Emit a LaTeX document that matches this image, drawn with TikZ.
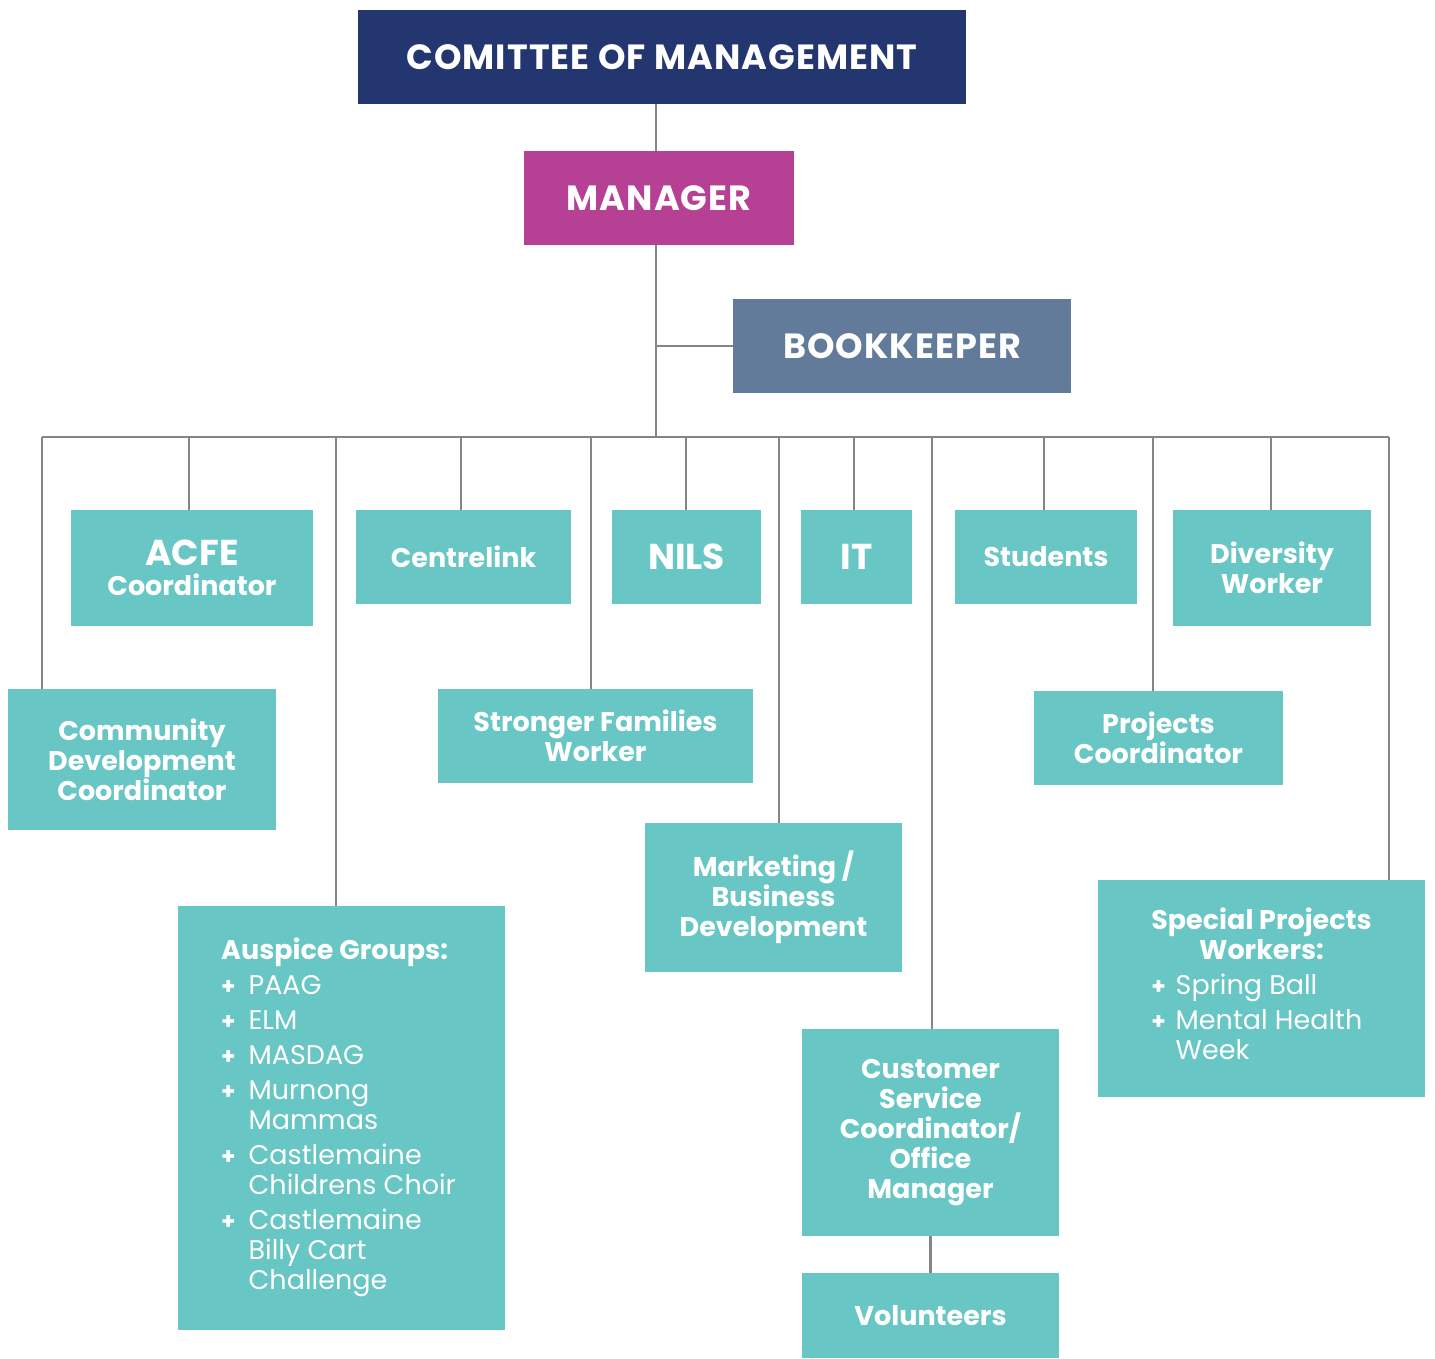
\documentclass[tikz,border=0pt]{standalone}
\usepackage{fontspec}
\setmainfont{Poppins}
\usetikzlibrary{positioning}
\definecolor{navy}    {HTML}{243670}
\definecolor{plum}    {HTML}{B64093}
\definecolor{slate}   {HTML}{627B9A}
\definecolor{tealbox} {HTML}{68C6C4}
\definecolor{wire}    {HTML}{858585}
\newcommand{\bigsz}{\fontsize{36}{34}\selectfont}
\newcommand{\plus}{{\fontsize{23}{22}\selectfont\bfseries +}}
\tikzset{
  % --- nodes
  box/.style   = {fill=tealbox, text=white, align=center, inner sep=0pt,
                  font=\fontsize{27}{30}\selectfont\bfseries},
  topbox/.style= {box, font=\addfontfeatures{LetterSpace=3}\fontsize{35}{36}\selectfont\bfseries},
  % --- edges
  link/.style  = {draw=wire, line width=2.3pt},
}
\begin{document}
\begin{tikzpicture}[x=1pt,y=-1pt]
  \useasboundingbox (0,0) rectangle (1435,1358);
  % top of the tree
  \node[topbox, fill=navy, minimum width=608, minimum height=94] (com) at (662,57) {COMITTEE OF MANAGEMENT};
  \node[topbox, fill=plum, minimum width=270, minimum height=94] (mgr) at (659,198) {MANAGER};
  \node[topbox, fill=slate, minimum width=338, minimum height=94] (bk) at (902,346) {BOOKKEEPER};
  % first row
  \node[box, minimum width=242, minimum height=116] (acfe) at (192,568) {{\bigsz ACFE}\\Coordinator};
  \node[box, minimum width=215, minimum height=94] (clink) at (463.5,557) {Centrelink};
  \node[box, minimum width=149, minimum height=94] (nils) at (686.5,557) {\bigsz NILS};
  \node[box, minimum width=111, minimum height=94] (it) at (856.5,557) {\bigsz IT};
  \node[box, minimum width=182, minimum height=94] (stud) at (1046,557) {Students};
  \node[box, minimum width=198, minimum height=116] (div) at (1272,568) {Diversity\\Worker};
  % second row
  \node[box, minimum width=268, minimum height=141] (cdc) at (142,759.5) {Community\\Development\\Coordinator};
  \node[box, minimum width=315, minimum height=94] (sfw) at (595.5,736) {Stronger Families\\Worker};
  \node[box, minimum width=249, minimum height=94] (pc) at (1158.5,738) {Projects\\Coordinator};
  \node[box, minimum width=257, minimum height=149] (mkt) at (773.5,897.5) {Marketing /\\Business\\Development};
  % lower boxes
  \node[box, minimum width=327, minimum height=424] (asp) at (341.5,1118) {%
    \begin{tabular}{@{}l@{\hskip 13pt}l@{\hskip 6pt}}
      \multicolumn{2}{@{}l@{\hskip 6pt}}{Auspice Groups:}\\[5pt]
      \plus & \mdseries PAAG\\[5pt]
      \plus & \mdseries ELM\\[5pt]
      \plus & \mdseries MASDAG\\[5pt]
      \plus & \mdseries Murnong\\
            & \mdseries Mammas\\[5pt]
      \plus & \mdseries Castlemaine\\
            & \mdseries Childrens Choir\\[5pt]
      \plus & \mdseries Castlemaine\\
            & \mdseries Billy Cart\\
            & \mdseries Challenge
    \end{tabular}};
  \node[box, minimum width=257, minimum height=207] (cs) at (930.5,1132.5) {Customer\\Service\\Coordinator/\\Office\\Manager};
  \node[box, minimum width=257, minimum height=85] (vol) at (930.5,1315.5) {Volunteers};
  \node[box, minimum width=327, minimum height=217] (spw) at (1261.5,988.5) {%
    \begin{tabular}{@{}l@{\hskip 10pt}l@{}}
      \multicolumn{2}{@{}c@{}}{Special Projects}\\
      \multicolumn{2}{@{}c@{}}{Workers:}\\[5pt]
      \plus & \mdseries Spring Ball\\[5pt]
      \plus & \mdseries Mental Health\\
            & \mdseries Week
    \end{tabular}};
  % connectors
  \coordinate (trunk) at (656,437);
  \draw[link] (com.south -| trunk) -- (mgr.north -| trunk);
  \draw[link] (mgr.south -| trunk) -- (trunk);
  \draw[link] (bk.west) -- (bk.west -| trunk);
  \foreach \x/\n [count=\i] in {42/cdc, 189/acfe, 336/asp, 461/clink, 591/sfw,
      686/nils, 779/mkt, 854/it, 932/cs, 1044/stud, 1153/pc, 1271/div, 1389/spw}
  {
    \coordinate (b\i) at (\x,437);
    \draw[link] (b\i) -- (b\i |- \n.north);
  }
  \draw[link] (b1) -- (b13);
  \draw[link] (cs.south) -- (vol.north);
\end{tikzpicture}
\end{document}
